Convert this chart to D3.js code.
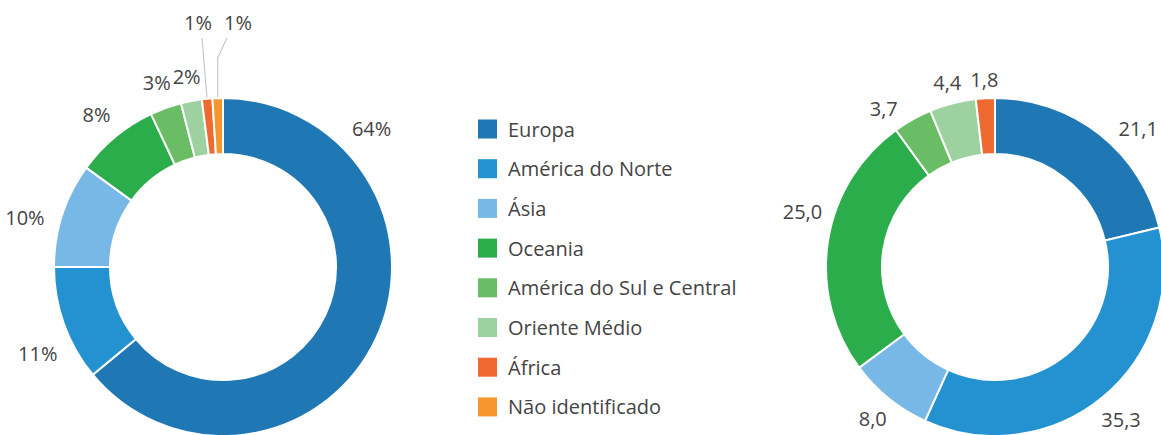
<!DOCTYPE html>
<html>
<head>
<meta charset="utf-8">
<script src="https://cdn.jsdelivr.net/npm/d3@7"></script>
<style>
  body { margin: 0; background: #fff; }
  text { font-family: "Open Sans", "Noto Sans", sans-serif; fill: #444; }
</style>
</head>
<body>
<div id="chart"></div>
<script>
// regions, same order in both charts
const regions = ['Europa', 'América do Norte', 'Ásia', 'Oceania',
  'América do Sul e Central', 'Oriente Médio', 'África', 'Não identificado'];
const colors = ['#1f77b4', '#2492d0', '#78b8e6', '#2aad4a',
  '#6bbd65', '#9dd19f', '#ee6a30', '#f7962f'];

// left donut: share in %
const leftValues = [64, 11, 10, 8, 3, 2, 1, 1];
const leftLabels = ['64%', '11%', '10%', '8%', '3%', '2%', '1%', '1%'];

// right donut (no "Não identificado")
const rightValues = [21.1, 35.3, 8.0, 25.0, 3.7, 4.4, 1.8];
const rightLabels = ['21,1', '35,3', '8,0', '25,0', '3,7', '4,4', '1,8'];

const width = 1161;
const height = 435;
const outerR = 169;
const innerR = 113;
const fontSize = 20;

const svg = d3.select('#chart').append('svg')
  .attr('width', width)
  .attr('height', height);

const pie = d3.pie().sort(null).value((d) => d);
const arc = d3.arc().innerRadius(innerR).outerRadius(outerR);
const rad = (deg) => deg * Math.PI / 180;

function drawDonut(cx, cy, values, labels, opts) {
  const g = svg.append('g').attr('transform', `translate(${cx},${cy})`);
  const arcs = pie(values);

  g.selectAll('path')
    .data(arcs)
    .join('path')
    .attr('d', arc)
    .attr('fill', (d, i) => colors[i])
    .attr('stroke', '#fff')
    .attr('stroke-width', 2);

  arcs.forEach((d, i) => {
    let a = (d.startAngle + d.endAngle) / 2;
    // a few labels are nudged round the ring, like in the original
    if (opts.angleFor && opts.angleFor[i] !== undefined) a = rad(opts.angleFor[i]);
    const t = g.append('text')
      .attr('font-size', fontSize)
      .attr('text-anchor', 'middle')
      .attr('dominant-baseline', 'central')
      .text(labels[i]);

    if (opts.lifted && opts.lifted.includes(i)) {
      // small slices: label lifted to the top with a leader line
      const k = opts.lifted.indexOf(i);
      const lx = -5 + (k === 0 ? -20 : 20);
      const ly = -cy + 22;
      t.attr('x', lx).attr('y', ly);
      const sx = (outerR + 1) * Math.sin(a);
      const sy = -(outerR + 1) * Math.cos(a);
      const pts = k === 0
        ? [[sx, sy], [sx - 5, ly + 16]]
        : [[sx, sy], [sx, ly + 36], [lx - 11, ly + 16]];
      g.append('path')
        .attr('d', d3.line()(pts))
        .attr('fill', 'none')
        .attr('stroke', '#c8c8c8')
        .attr('stroke-width', 1.2);
      return;
    }

    const w = t.node().getComputedTextLength();
    const h = fontSize * 0.85;
    const ux = Math.sin(a);
    const uy = -Math.cos(a);
    const ext = Math.abs(ux) * w / 2 + Math.abs(uy) * h / 2;
    const r = outerR + (opts.gap || 14) + ext;
    t.attr('x', r * ux).attr('y', r * uy);
  });
}

drawDonut(223, 267, leftValues, leftLabels, {
  angleFor: { 0: 47, 1: 245, 2: 284 },
  lifted: [6, 7],
});
drawDonut(995, 267, rightValues, rightLabels, {
  angleFor: { 0: 46, 3: 286, 4: 325 },
  gap: 10,
});

// legend
const legend = svg.append('g').attr('transform', 'translate(478,129)');
const rows = legend.selectAll('g')
  .data(regions)
  .join('g')
  .attr('transform', (d, i) => `translate(0,${i * 39.7})`);
rows.append('rect')
  .attr('x', 0)
  .attr('y', -9.5)
  .attr('width', 19)
  .attr('height', 19)
  .attr('fill', (d, i) => colors[i]);
rows.append('text')
  .attr('x', 30)
  .attr('y', 0)
  .attr('dominant-baseline', 'central')
  .attr('font-size', fontSize)
  .text((d) => d);
</script>
</body>
</html>
